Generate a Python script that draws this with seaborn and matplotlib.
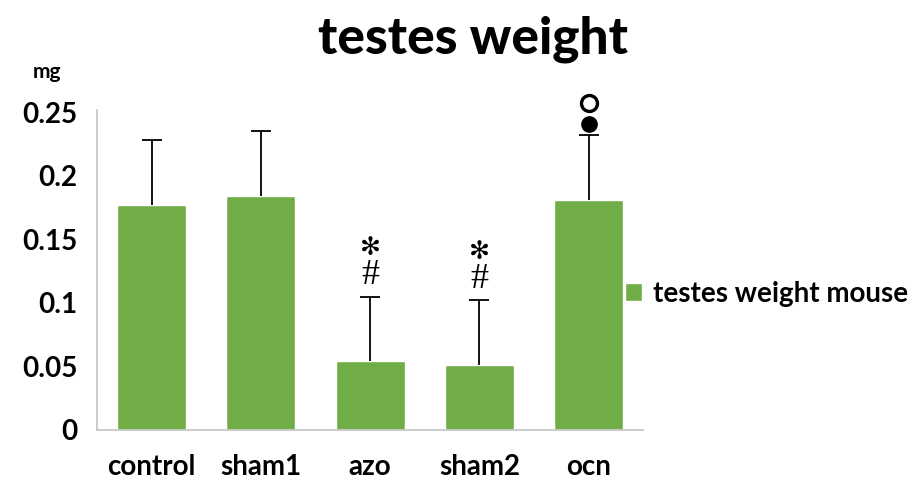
import matplotlib
matplotlib.use('Agg')
import matplotlib.pyplot as plt
import matplotlib.transforms as mtransforms
import seaborn as sns
import pandas as pd

groups = ['control', 'sham1', 'azo', 'sham2', 'ocn']
weights = [0.177, 0.184, 0.054, 0.051, 0.181]
errors = [0.051, 0.051, 0.051, 0.051, 0.051]
# significance marks above the error bars
star_hash = ['azo', 'sham2']
circles = ['ocn']

green = '#70AD47'

sns.set_style('white')
plt.rcParams['font.family'] = ['Lato', 'DejaVu Sans']
plt.rcParams['text.color'] = 'black'

df = pd.DataFrame({'group': groups, 'weight': weights})

fig = plt.figure(figsize=(9.23, 4.82), dpi=100)
ax = fig.add_axes([0.105, 0.108, 0.592, 0.664])

sns.barplot(data=df, x='group', y='weight', color=green, width=0.63,
            saturation=1, label='testes weight mouse', ax=ax)

xs = list(range(len(groups)))
eb = ax.errorbar(xs, weights, yerr=[[0] * len(errors), errors], fmt='none',
                 ecolor='black', elinewidth=1.3, capsize=7, capthick=1.3)
eb[1][0].set_visible(False)  # no cap at the bar top

for i, g in enumerate(groups):
    top = weights[i] + errors[i]
    if g in star_hash:
        ax.annotate('#', (i, top), xytext=(0, 15), textcoords='offset points',
                    ha='center', va='center', fontsize=26,
                    family=['Liberation Serif'])
        ax.annotate('\u273B', (i, top), xytext=(0, 35),
                    textcoords='offset points', ha='center', va='center',
                    fontsize=18, family=['DejaVu Sans'])
    if g in circles:
        off1 = mtransforms.offset_copy(ax.transData, fig=fig, x=0, y=8,
                                       units='points')
        off2 = mtransforms.offset_copy(ax.transData, fig=fig, x=0, y=23,
                                       units='points')
        ax.plot([i], [top], marker='o', ms=11, mfc='black', mec='black',
                transform=off1, clip_on=False)
        ax.plot([i], [top], marker='o', ms=11.5, mfc='white', mec='black',
                mew=2.4, transform=off2, clip_on=False)

ax.set_xlim(-0.5, 4.5)
ax.set_ylim(0, 0.252)
ax.set_yticks([0, 0.05, 0.1, 0.15, 0.2, 0.25])
ax.set_yticklabels(['0', '0.05', '0.1', '0.15', '0.2', '0.25'])
ax.set_xlabel('')
ax.set_ylabel('')
ax.tick_params(axis='both', length=0, labelsize=20, pad=14,
               labelcolor='black')
for lab in ax.get_xticklabels() + ax.get_yticklabels():
    lab.set_fontweight('bold')
ax.tick_params(axis='x', pad=17)

sns.despine(ax=ax)
for side in ['left', 'bottom']:
    ax.spines[side].set_color('#C8C8C8')
    ax.spines[side].set_linewidth(1.3)

fig.text(0.512, 0.918, 'testes weight', ha='center', va='center',
         fontsize=37, fontweight='black')
fig.text(0.051, 0.85, 'mg', ha='center', va='center', fontsize=15,
         fontweight='bold')

ax.legend(loc='center left', bbox_to_anchor=(0.967, 0.425), frameon=False,
          prop={'size': 20, 'weight': 'bold'}, handlelength=0.6,
          handleheight=0.6, handletextpad=0.4, borderaxespad=0,
          borderpad=0)

fig.savefig('out.png', dpi=100)
